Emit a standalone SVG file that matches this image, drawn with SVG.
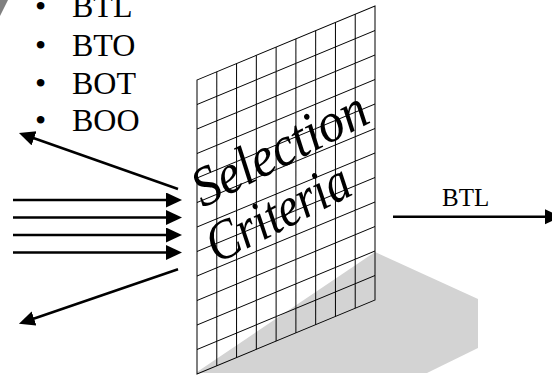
<svg xmlns="http://www.w3.org/2000/svg" width="552" height="375" viewBox="0 0 552 375">
<style>
.t{font-family:"Liberation Serif","Times New Roman",serif;fill:#000}
.ar{stroke:#000;stroke-width:2.5;fill:none;marker-end:url(#ah)}
.g{stroke:#000;stroke-width:1;fill:none}
</style>
<defs>
<marker id="ah" markerUnits="userSpaceOnUse" markerWidth="18" markerHeight="16" refX="6" refY="7.5" orient="auto">
<path d="M0,0 L16,7.5 L0,15 Z" fill="#000"/>
</marker>
</defs>
<rect width="552" height="375" fill="#fff"/>
<polygon points="0,0 8,0 0,16" fill="#808080"/>
<g id="bullets">
<text class="t" x="35" y="17" font-size="32">•</text>
<text class="t" x="72" y="17" font-size="32">BTL</text>
<text class="t" x="35" y="56" font-size="32">•</text>
<text class="t" x="72" y="56" font-size="32">BTO</text>
<text class="t" x="35" y="93.5" font-size="32">•</text>
<text class="t" x="72" y="93.5" font-size="32">BOT</text>
<text class="t" x="35" y="131" font-size="32">•</text>
<text class="t" x="72" y="131" font-size="32">BOO</text>
</g>
<polygon id="shadow" points="197,373 197,372 375,252 478,299 478,348 427,373" fill="#d3d3d3"/>
<g id="screen">
<g transform="matrix(1,-0.4157,0,1,197,80)">
<rect x="0" y="0" width="178" height="294" fill="#fff" class="g"/>
<path class="g" d="M0,24.5H178M0,49H178M0,73.5H178M0,98H178M0,122.5H178M0,147H178M0,171.5H178M0,196H178M0,220.5H178M0,245H178M0,269.5H178M19.78,0V294M39.56,0V294M59.33,0V294M79.11,0V294M98.89,0V294M118.67,0V294M138.44,0V294M158.22,0V294"/>
</g>
<text class="t" font-style="italic" font-size="56" textLength="190" lengthAdjust="spacingAndGlyphs" transform="translate(203,208) rotate(-27)">Selection</text>
<text class="t" font-style="italic" font-size="56" textLength="155" lengthAdjust="spacingAndGlyphs" transform="translate(217,264) rotate(-27)">Criteria</text>
</g>
<g id="connectors">
<line class="ar" x1="13" y1="200" x2="172" y2="200"/>
<line class="ar" x1="13" y1="217.5" x2="172" y2="217.5"/>
<line class="ar" x1="13" y1="235" x2="172" y2="235"/>
<line class="ar" x1="13" y1="252.5" x2="172" y2="252.5"/>
<line class="ar" x1="178" y1="189" x2="28.4" y2="136.3"/>
<line class="ar" x1="178" y1="269.3" x2="28.4" y2="320.5"/>
<line class="ar" x1="393" y1="216.7" x2="551" y2="216.7"/>
</g>
<text class="t" x="442" y="205.5" font-size="25">BTL</text>
</svg>
